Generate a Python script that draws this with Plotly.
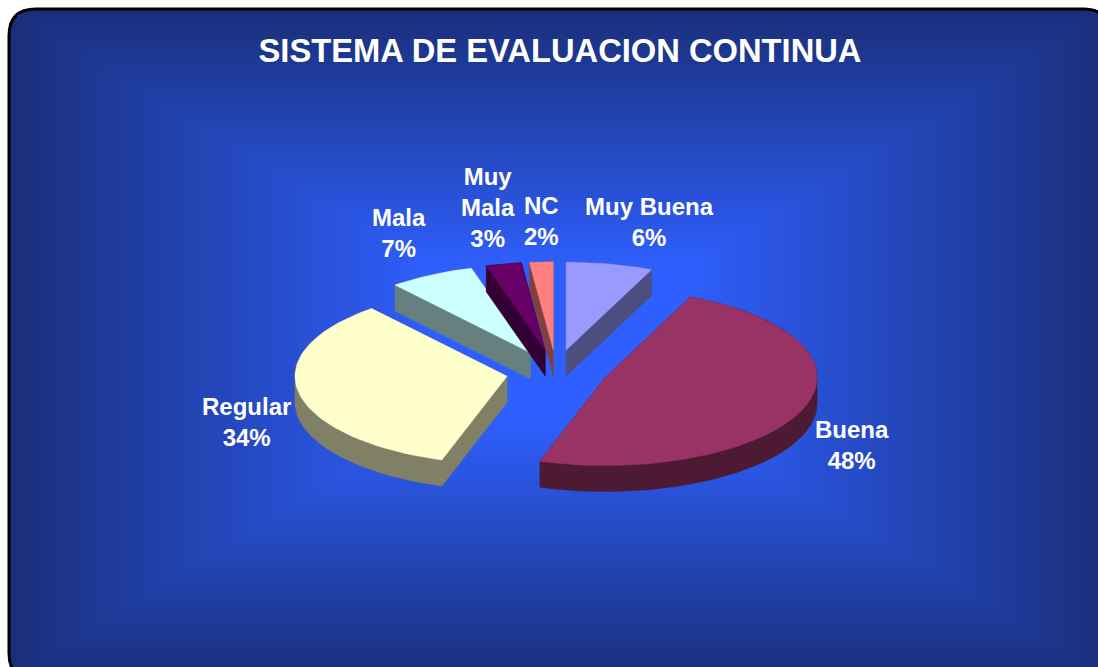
import math
import plotly.graph_objects as go

# ---- data ----
categories = ["Muy Buena", "Buena", "Regular", "Mala", "Muy Mala", "NC"]
values = [6, 48, 34, 7, 3, 2]
label_names = ["Muy Buena", "Buena", "Regular", "Mala", "Muy<br>Mala", "NC"]
title_text = "SISTEMA DE EVALUACION CONTINUA"

# ---- styles and geometry, separate from the data ----
top_colors = ["#9999ff", "#993366", "#ffffcc", "#ccffff", "#660066", "#ff8080"]
side_colors = ["#4d4d80", "#4d1a33", "#808066", "#668080", "#330033", "#804040"]
label_centres = [(649, 222), (852, 445), (246, 422), (399, 233), (488, 207), (541, 221)]
draw_order = [3, 4, 5, 0, 2, 1]          # back to front
W, H = 1098, 667
CX, CY, RX, RY = 556.5, 371.0, 212.0, 88.0
EXPLODE, DEPTH = 0.241, 26.0
SKEW_DEG, SKEW_RAMP_DEG = 3.5, 35.0      # the 3-D view's slight angular distortion
BOX = (9.0, 9.0, 1110.0, 680.0)
CORNER = 27.0
EDGE, MID = (26, 47, 122), (47, 96, 255)


def hull(points):
    pts = sorted(set(points))
    def half(seq):
        out = []
        for p in seq:
            while len(out) > 1 and ((out[-1][0] - out[-2][0]) * (p[1] - out[-2][1])
                                    - (out[-1][1] - out[-2][1]) * (p[0] - out[-2][0])) <= 0:
                out.pop()
            out.append(p)
        return out[:-1]
    return half(pts) + half(pts[::-1])


def view_angle(a):
    deg = math.degrees(a)
    ramp = min(1.0, deg / SKEW_RAMP_DEG, (360.0 - deg) / SKEW_RAMP_DEG)
    return a + math.radians(SKEW_DEG * max(0.0, ramp))


def wedge(start_pct, share):
    """Outline of one exploded slice, clockwise from 12 o'clock, in data units of the axes."""
    a0 = start_pct / 100 * 2 * math.pi
    a1 = (start_pct + share) / 100 * 2 * math.pi
    mid = (a0 + a1) / 2
    ax = CX + EXPLODE * RX * math.sin(mid)
    ay = CY - EXPLODE * RY * math.cos(mid)
    n = max(4, int(share * 2))
    pts = [(ax, ay)]
    for i in range(n + 1):
        a = view_angle(a0 + (a1 - a0) * i / n)
        pts.append((ax + RX * math.sin(a), ay - RY * math.cos(a)))
    return pts


def closed(pts):
    return [p[0] for p in pts] + [pts[0][0]], [p[1] for p in pts] + [pts[0][1]]


starts = [sum(values[:i]) for i in range(len(values))]
outlines = [wedge(s, v) for s, v in zip(starts, values)]

fig = go.Figure()
for i in draw_order:
    top = outlines[i]
    side = hull(top + [(x, y + DEPTH) for x, y in top])
    sx, sy = closed(side)
    fig.add_trace(go.Scatter(x=sx, y=sy, mode="lines", fill="toself", fillcolor=side_colors[i],
                             line=dict(color=side_colors[i], width=0.5), hoverinfo="skip",
                             showlegend=False))
    tx, ty = closed(top)
    fig.add_trace(go.Scatter(x=tx, y=ty, mode="lines", fill="toself", fillcolor=top_colors[i],
                             line=dict(color=top_colors[i], width=0.5), name=categories[i],
                             hoveron="fills", text=f"{categories[i]}: {values[i]}%",
                             hoverinfo="text", showlegend=False))

# rounded frame plus a rectangular gradient made of nested rectangles
x0, y0, x1, y1 = BOX
r = CORNER
frame = (f"M{x0+r},{y0} L{x1-r},{y0} Q{x1},{y0} {x1},{y0+r} L{x1},{y1-r} Q{x1},{y1} {x1-r},{y1} "
         f"L{x0+r},{y1} Q{x0},{y1} {x0},{y1-r} L{x0},{y0+r} Q{x0},{y0} {x0+r},{y0} Z")
shapes = [dict(type="path", path=frame, xref="x", yref="y", layer="below",
               fillcolor="rgb(%d,%d,%d)" % EDGE, line=dict(color="black", width=3))]
STEPS = 70
for k in range(1, STEPS + 1):
    t = k / STEPS
    ix, iy = t * 430, t * 262
    col = tuple(round(EDGE[c] + (MID[c] - EDGE[c]) * t) for c in range(3))
    pad = 2 if k == 1 else 0
    shapes.append(dict(type="rect", xref="x", yref="y", layer="below", line=dict(width=0),
                       x0=x0 + ix + pad, x1=x1 - ix - pad, y0=y0 + iy + pad, y1=y1 - iy - pad,
                       fillcolor="rgb(%d,%d,%d)" % col))

annotations = [dict(x=c[0], y=c[1], xref="x", yref="y", text=f"{n}<br>{v}%", showarrow=False,
                    xanchor="center", yanchor="middle", align="center",
                    font=dict(family="Liberation Sans, Arial", size=24, color="white",
                              weight="bold"))
               for n, v, c in zip(label_names, values, label_centres)]

fig.update_layout(
    width=W, height=H, margin=dict(l=0, r=0, t=0, b=0), autosize=False,
    paper_bgcolor="white", plot_bgcolor="rgba(0,0,0,0)", showlegend=False,
    title=dict(text=f"<b>{title_text}</b>", x=560 / W, y=1 - 51 / H, xref="paper", yref="paper",
               xanchor="center", yanchor="middle",
               font=dict(family="Liberation Sans, Arial", size=32.7, color="white")),
    xaxis=dict(range=[0, W], visible=False, fixedrange=True),
    yaxis=dict(range=[H, 0], visible=False, fixedrange=True),
    shapes=shapes, annotations=annotations,
)
fig.write_html("out.html", config={"displayModeBar": False},
               post_script="document.body.style.margin='0';document.body.style.overflow='hidden';")
